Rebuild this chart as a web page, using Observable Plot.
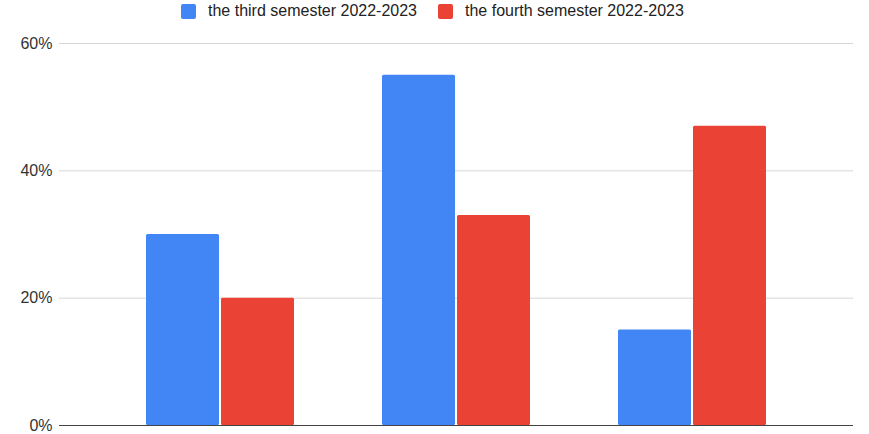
<!DOCTYPE html>
<html>
<head>
<meta charset="utf-8">
<script src="https://cdn.jsdelivr.net/npm/d3@7"></script>
<script src="https://cdn.jsdelivr.net/npm/@observablehq/plot@0.6"></script>
<style>
  html, body { margin: 0; padding: 0; background: #fff; }
  body { width: 869px; height: 434px; overflow: hidden; font-family: "Liberation Sans", Arial, sans-serif; }
  #legend { height: 22px; display: flex; align-items: center; padding-left: 181px; font-size: 16px; color: #222; box-sizing: border-box; }
  .item { display: flex; align-items: center; margin-right: 21px; }
  .sw { width: 15px; height: 15px; border-radius: 2px; margin-right: 12px; }
  #chart { position: relative; width: 869px; height: 412px; }
  #chart svg { position: absolute; left: 0; top: 0; }
</style>
</head>
<body>
<div id="legend"></div>
<div id="chart"></div>
<script>
const groups = ["Group 1", "Group 2", "Group 3"];
const seriesNames = ["the third semester 2022-2023", "the fourth semester 2022-2023"];
const thirdSemester = [30, 55, 15];
const fourthSemester = [20, 33, 47];
const yTicks = [0, 20, 40, 60];
const colors = ["#4285F4", "#EA4335"];

const data = [];
groups.forEach((g, i) => {
  data.push({group: g, series: seriesNames[0], value: thirdSemester[i]});
  data.push({group: g, series: seriesNames[1], value: fourthSemester[i]});
});

const legend = document.getElementById("legend");
seriesNames.forEach((s, i) => {
  const it = document.createElement("div");
  it.className = "item";
  const sw = document.createElement("div");
  sw.className = "sw";
  sw.style.background = colors[i];
  const t = document.createElement("span");
  t.textContent = s;
  it.appendChild(sw); it.appendChild(t);
  legend.appendChild(it);
});

const common = {
  width: 869,
  height: 412,
  marginTop: 21,
  marginBottom: 9,
  marginLeft: 59,
  marginRight: 16,
  style: {fontFamily: "Liberation Sans, Arial, sans-serif", fontSize: "16px", color: "#333", background: "transparent"}
};

// Background layer: y axis, grid lines, baseline
const axisLayer = Plot.plot({
  ...common,
  x: {axis: null},
  y: {domain: [0, 60], ticks: yTicks, tickFormat: d => d + "%", tickSize: 0, tickPadding: 7, label: null},
  marks: [
    Plot.ruleY(yTicks.filter(d => d > 0), {stroke: "#d6d6d6", strokeWidth: 1}),
    Plot.ruleY([0], {stroke: "#444", strokeWidth: 1})
  ]
});

// Bar layer: grouped bars via fx facets
const barLayer = Plot.plot({
  ...common,
  fx: {domain: groups, axis: null, paddingInner: 0.366, paddingOuter: 0.36, label: null},
  x: {domain: seriesNames, axis: null, padding: 0},
  y: {domain: [0, 60], axis: null},
  color: {domain: seriesNames, range: colors},
  marks: [
    Plot.barY(data, {fx: "group", x: "series", y: "value", fill: "series", insetLeft: 1, insetRight: 1, rx: 1.5})
  ]
});

const chart = document.getElementById("chart");
chart.appendChild(axisLayer);
chart.appendChild(barLayer);
</script>
</body>
</html>
